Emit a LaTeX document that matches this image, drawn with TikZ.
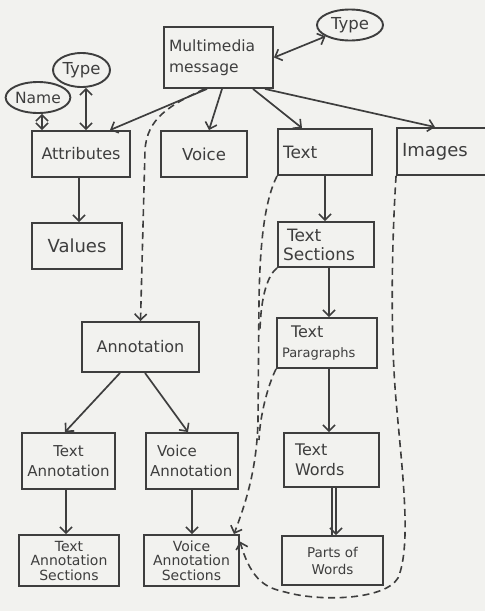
\documentclass[tikz,border=0pt]{standalone}
\usepackage{fontspec}
\setmainfont{DejaVu Sans}
\usetikzlibrary{arrows.meta,shapes.geometric}
\definecolor{ink}{HTML}{3E3E3E}
\definecolor{paper}{HTML}{F2F2EF}
\begin{document}
\begin{tikzpicture}[x=1pt,y=-1pt,
  box/.style={draw=ink, line width=1.9pt, rectangle, inner xsep=5pt, inner ysep=0pt, text=ink, align=center, font=\fontsize{16}{20}\selectfont},
  oval/.style={draw=ink, line width=1.9pt, ellipse, inner sep=0pt, text=ink, font=\fontsize{16.5}{18}\selectfont},
  tip/.tip={Straight Barb[length=6pt,width=12pt,line width=1.6pt]},
  arr/.style={draw=ink, line width=1.7pt, -tip},
  darr/.style={draw=ink, line width=1.7pt, tip-tip},
  dline/.style={draw=ink, line width=1.6pt, dash pattern=on 7pt off 4.5pt},
  darrow/.style={dline, -tip},
]
\fill[paper] (0,0) rectangle (485,611);
\useasboundingbox (0,0) rectangle (485,611);

% boxes
\node[box, minimum width=109, minimum height=61, text width=99, align=left, font=\fontsize{15.5}{21}\selectfont] (mm) at (218.5,57.5) {Multimedia\\message};
\node[box, minimum width=98, minimum height=46] (attr) at (81,154) {Attributes};
\node[box, minimum width=86, minimum height=46, font=\fontsize{16.5}{20}\selectfont] (voice) at (204,154) {Voice};
\node[box, minimum width=94, minimum height=46, text width=84, align=left, font=\fontsize{17}{20}\selectfont] (text) at (325,152) {Text};
\node[box, minimum width=100, minimum height=47, text width=90, align=left, font=\fontsize{18}{20}\selectfont] (images) at (447,151.5) {Images};
\node[box, minimum width=90, minimum height=46, font=\fontsize{18}{20}\selectfont] (values) at (77,246) {Values};
\node[box, minimum width=96, minimum height=45, text width=86, align=left, font=\fontsize{17}{19}\selectfont] (ts) at (326,244.5) {\hspace*{4pt}Text\\Sections};
\node[box, minimum width=100, minimum height=50, text width=90, align=left, font=\fontsize{16}{20}\selectfont] (tp) at (327,343) {\hspace*{9pt}Text\\{\fontsize{13}{15}\selectfont Paragraphs}};
\node[box, minimum width=117, minimum height=50] (annot) at (140.5,347) {Annotation};
\node[box, minimum width=93, minimum height=56, font=\fontsize{15}{20}\selectfont] (ta) at (68.5,461) {Text\\Annotation};
\node[box, minimum width=92, minimum height=56, inner xsep=4pt, text width=84, align=left, font=\fontsize{15}{20}\selectfont] (va) at (192,461) {\hspace*{7pt}Voice\\Annotation};
\node[box, minimum width=100, minimum height=51, font=\fontsize{14}{14.5}\selectfont] (tas) at (69,560.5) {Text\\Annotation\\Sections};
\node[box, minimum width=95, minimum height=51, font=\fontsize{14}{14.5}\selectfont] (vas) at (191.5,560.5) {Voice\\Annotation\\Sections};
\node[box, minimum width=95, minimum height=54, inner xsep=11pt, text width=73, align=left] (tw) at (331.5,460) {Text\\Words};
\node[box, minimum width=101, minimum height=49, font=\fontsize{13.5}{17}\selectfont] (pw) at (332.5,560.5) {Parts of\\Words};

% ovals
\node[oval, minimum width=66, minimum height=31] (typeR) at (350,25) {Type};
\node[oval, minimum width=57, minimum height=34] (typeL) at (81.5,70) {Type};
\node[oval, minimum width=60, minimum height=31, font=\fontsize{15.5}{18}\selectfont] (name) at (38,97.5) {Name};

% solid connectors
\draw[darr] (mm.east) -- (typeR.205);
\draw[darr, line width=2.6pt] ([xshift=4]name.south) -- ([xshift=4]name.south |- attr.north);
\draw[darr] (typeL.south -| 86,0) -- (86,0 |- attr.north);
\draw[arr] ([xshift=-11.5]mm.south) -- ([xshift=29]attr.north);
\draw[arr] ([xshift=3.5]mm.south) -- ([xshift=5]voice.north);
\draw[arr] ([xshift=34.5]mm.south) -- ([xshift=-23]text.north);
\draw[arr] ([xshift=46.5]mm.south) -- ([xshift=-12]images.north);
\draw[arr] ([xshift=-2]attr.south) -- ([xshift=-2]attr.south |- values.north);
\draw[arr] (text.south) -- (text.south |- ts.north);
\draw[arr] ([xshift=3]ts.south) -- ([xshift=3]ts.south |- tp.north);
\draw[arr] ([xshift=2]tp.south) -- ([xshift=2]tp.south |- tw.north);
\draw[draw=ink, line width=1.6pt] ([xshift=0.5]tw.south) -- ([xshift=0.5]tw.south |- pw.north);
\draw[arr] ([xshift=4.5]tw.south) -- ([xshift=4.5]tw.south |- pw.north);
\draw[arr] ([xshift=-20.5]annot.south) -- ([xshift=-3.5]ta.north);
\draw[arr] ([xshift=4.5]annot.south) -- ([xshift=-4]va.north);
\draw[arr] ([xshift=-2.5]ta.south) -- ([xshift=-2.5]ta.south |- tas.north);
\draw[arr] (va.south) -- (va.south |- vas.north);

% dashed connectors
\draw[darrow] ([xshift=-14]mm.south) .. controls (170,105) and (147,118) .. (145,150) -- (annot.north);
\draw[darrow] (text.south west) .. controls (265,200) and (260,240) .. (259,300) -- (258,420) .. controls (257,470) and (245,505) .. ([xshift=-6]vas.north east);
\draw[dline] (ts.south west) .. controls (268,275) and (261,295) .. (260,330);
\draw[dline] (tp.south west) .. controls (268,385) and (260,415) .. (259,440);
\draw[darrow] (images.south west) .. controls (392,240) and (390,330) .. (396,400) .. controls (402,470) and (412,545) .. (398,578) .. controls (385,600) and (320,602) .. (285,592) .. controls (268,588) and (252,583) .. ([yshift=19]vas.east);
\end{tikzpicture}
\end{document}
